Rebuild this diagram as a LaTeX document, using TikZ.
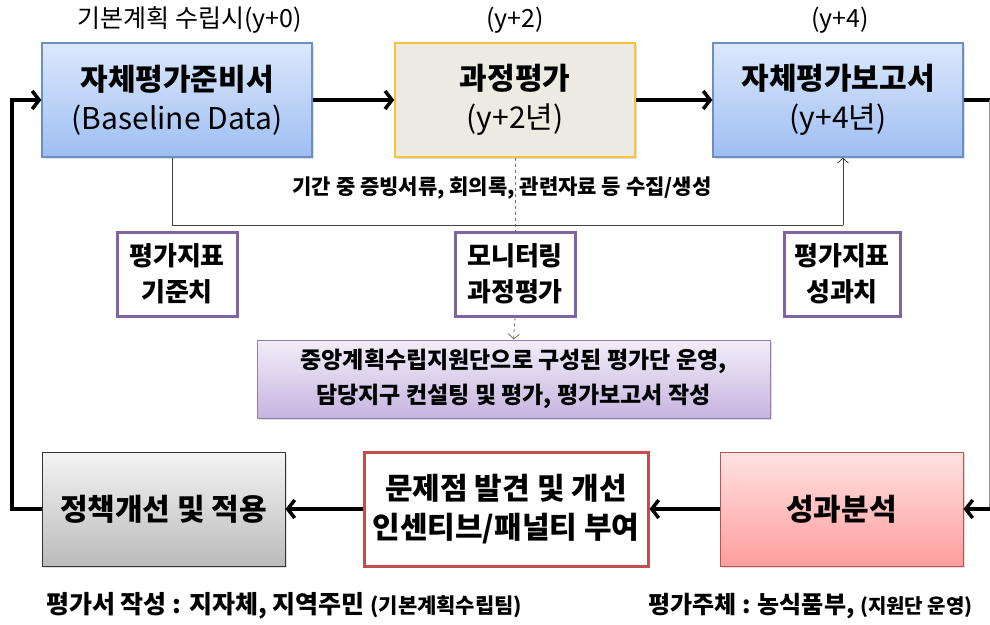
\documentclass[tikz,border=0pt]{standalone}
\usepackage{fontspec}
\setmainfont{Noto Sans CJK KR}
\usetikzlibrary{arrows.meta,shadows}
\definecolor{bluebd}{HTML}{6A8FC7}
\definecolor{bluetop}{HTML}{DCE8FB}
\definecolor{bluebot}{HTML}{9EBEF2}
\definecolor{beige}{HTML}{ECEAE1}
\definecolor{gold}{HTML}{F7C33C}
\definecolor{purp}{HTML}{8064A2}
\definecolor{lavtop}{HTML}{F2EDF8}
\definecolor{lavbot}{HTML}{C6B4E0}
\definecolor{redbd}{HTML}{C0504D}
\definecolor{pinktop}{HTML}{FFE2E2}
\definecolor{pinkbot}{HTML}{FF9D9D}
\definecolor{greytop}{HTML}{F3F3F3}
\definecolor{greybot}{HTML}{BBBBBB}
\begin{document}
\begin{tikzpicture}[x=1pt,y=-1pt,
  box/.style={minimum width=#1, inner sep=0pt, align=center, font=\bfseries\fontsize{30}{39}\selectfont, drop shadow={shadow xshift=2pt,shadow yshift=-2pt,opacity=0.25}},
  bluebox/.style={box=#1, draw=bluebd, line width=1.2pt, top color=bluetop, bottom color=bluebot, minimum height=114pt},
  pbox/.style={draw=purp, line width=3pt, fill=white, minimum width=#1, minimum height=84pt, inner sep=0pt, align=center, font=\bfseries\fontsize{26}{36}\selectfont},
  lbl/.style={font=\fontsize{25}{28}\selectfont, inner sep=0pt},
  thick arrow/.style={line width=4pt, -{Straight Barb[length=7pt,width=18pt,line width=3.5pt]}},
  thickline/.style={line width=4pt},
  thinarrow/.style={line width=0.8pt, draw=black!75, -{Straight Barb[length=5pt,width=11pt]}},
]
\useasboundingbox (0,0) rectangle (990,624);
% top boxes
\node[bluebox=270pt] (A) at (177,100) {자체평가준비서\\\mdseries (Baseline Data)};
\node[box=240pt, draw=gold, line width=1.5pt, fill=beige, minimum height=114pt] (B) at (515,100) {과정평가\\\mdseries (y+2년)};
\node[bluebox=250pt] (C) at (838,100) {자체평가보고서\\\mdseries (y+4년)};
% top labels
\node[lbl] (la) at (190,20) {기본계획 수립시(y+0)};
\node[lbl] (lb) at (515,20) {(y+2)};
\node[lbl] (lc) at (840,20) {(y+4)};
% purple boxes
\node[pbox=120pt] (P1) at (177,274) {평가지표\\기준치};
\node[pbox=120pt] (P2) at (515,274) {모니터링\\과정평가};
\node[pbox=116pt] (P3) at (842,274) {평가지표\\성과치};
% lavender box
\node[draw=purp!85, line width=1pt, top color=lavtop, bottom color=lavbot, minimum width=513pt, minimum height=78pt, inner sep=0pt, align=center, font=\bfseries\fontsize{23}{35}\selectfont, drop shadow={shadow xshift=2pt,shadow yshift=-2pt,opacity=0.25}] (L) at (513.5,379) {중앙계획수립지원단으로 구성된 평가단 운영,\\담당지구 컨설팅 및 평가, 평가보고서 작성};
% bottom boxes
\node[box=243pt, draw=black!80, line width=1pt, top color=greytop, bottom color=greybot, minimum height=114pt] (D) at (163.5,509) {정책개선 및 적용};
\node[box=284pt, draw=redbd, line width=3pt, fill=white, minimum height=114pt] (E) at (506,509) {문제점 발견 및 개선\\인센티브/패널티 부여};
\node[box=243pt, draw=redbd, line width=1pt, top color=pinktop, bottom color=pinkbot, minimum height=114pt] (F) at (841.5,509) {성과분석};
% middle text
\node[font=\bfseries\fontsize{21}{24}\selectfont, inner sep=0pt] (T) at (502,188) {기간 중 증빙서류, 회의록, 관련자료 등 수집/생성};
% bottom texts
\node[anchor=west, inner sep=0pt, font=\bfseries\fontsize{25}{28}\selectfont] (b1) at (46,606) {평가서 작성 : 지자체, 지역주민 {\fontsize{21}{24}\selectfont (기본계획수립팀)}};
\node[anchor=west, inner sep=0pt, font=\bfseries\fontsize{24}{28}\selectfont] (b2) at (648,606) {평가주체 : 농식품부, {\fontsize{20}{24}\selectfont (지원단 운영)}};
% coordinates
\coordinate (t1) at (172,225);
\coordinate (t2) at (843,225);
\coordinate (r1) at (995,100);
\coordinate (r2) at (995,509);
\coordinate (l1) at (12,509);
\coordinate (l2) at (12,100);
% connectors
\draw[thick arrow] (A) -- (B);
\draw[thick arrow] (B) -- (C);
\draw[thick arrow] (F) -- (E);
\draw[thick arrow] (E) -- (D);
\draw[thick arrow] (D.west) -- (l1) -- (l2) -- (A.west);
\draw[thickline] (C.east) -- (r1);
\draw[black!45, line width=0.8pt] (989,100) -- (989,509);
\draw[thick arrow] (r2) -- (F.east);
\draw[line width=0.8pt, draw=black!75] (A.south -| t1) -- (t1) -- (t2);
\draw[thinarrow] (t2) -- (C.south -| t2);
\draw[line width=0.8pt, draw=black!55, dashed] (B.south) -- (P2.north);
\draw[line width=0.8pt, draw=black!55, dashed, -{Straight Barb[length=5pt,width=11pt]}] (P2.south) -- (L.north);
\end{tikzpicture}
\end{document}
